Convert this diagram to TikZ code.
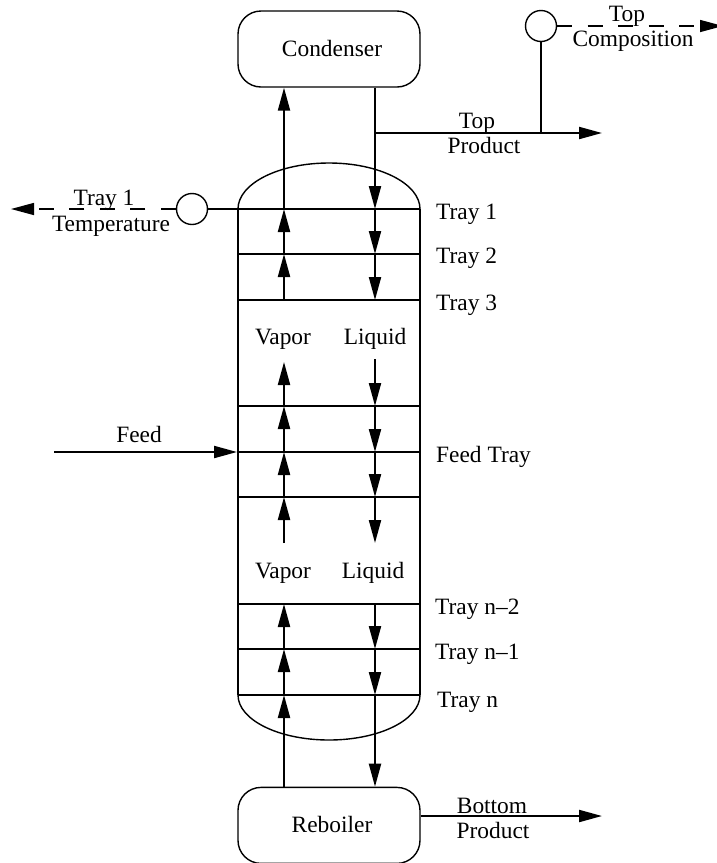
\documentclass[tikz,border=0pt]{standalone}
\usepackage{fontspec}
\setmainfont{Liberation Serif}
\usetikzlibrary{positioning,arrows.meta}

\begin{document}
\begin{tikzpicture}[
x=1pt,y=-1pt,
font=\fontsize{23.4}{26}\selectfont,
>={Triangle[length=23pt,width=12pt]},
flow/.style={line width=2.1pt},
shell/.style={line width=1.4pt},
unitbox/.style={draw,line width=1.4pt,rounded corners=23pt,minimum width=182pt,minimum height=76pt,text height=15pt},
sensor/.style={draw,line width=1.4pt,circle,minimum size=31pt,inner sep=0pt},
signal/.style={line width=1.4pt,dash pattern=on 15pt off 15.5pt},
txt/.style={inner sep=0pt,anchor=base},
traytxt/.style={inner sep=0pt,anchor=base west}
]
\useasboundingbox (0,0) rectangle (716,863);

% vessels
\node[unitbox] (cond) at (329,49) {\hspace*{6pt}Condenser};
\node[unitbox,below=699pt of cond] (reb) {\hspace*{6pt}Reboiler};
\node[sensor] (ti) at (192,209) {};
\node[sensor] (ci) at (541,26) {};

% column shell
\draw[shell] (238,209) arc[start angle=180,end angle=360,x radius=91,y radius=46];
\draw[shell] (238,695) arc[start angle=180,end angle=0,x radius=91,y radius=45];
\draw[flow] (238,209) -- (238,695);
\draw[flow] (420,209) -- (420,695);

% trays
\draw[flow] (238,209) -- (420,209);
\draw[flow] (238,254) -- (420,254);
\draw[flow] (238,300) -- (420,300);
\draw[flow] (238,406) -- (420,406);
\draw[flow] (238,452) -- (420,452);
\draw[flow] (238,497) -- (420,497);
\draw[flow] (238,604) -- (420,604);
\draw[flow] (238,649) -- (420,649);
\draw[flow] (238,695) -- (420,695);

% vapor points
\coordinate (v1) at (284,209);
\coordinate (v2) at (284,254);
\coordinate (v3) at (284,300);
\coordinate (v4) at (284,362);
\coordinate (v5) at (284,406);
\coordinate (v6) at (284,452);
\coordinate (v7) at (284,497);
\coordinate (v8) at (284,543);
\coordinate (v9) at (284,604);
\coordinate (v10) at (284,649);
\coordinate (v11) at (284,695);

% liquid points
\coordinate (l1) at (375,209);
\coordinate (l2) at (375,254);
\coordinate (l3) at (375,300);
\coordinate (l4) at (375,359);
\coordinate (l5) at (375,406);
\coordinate (l6) at (375,452);
\coordinate (l7) at (375,497);
\coordinate (l8) at (375,543);
\coordinate (l9) at (375,603);
\coordinate (l10) at (375,649);
\coordinate (l11) at (375,695);
\coordinate (tee) at (375,133);

% free ends
\coordinate (topend) at (602,133);
\coordinate (ctee) at (541,133);
\coordinate (botend) at (602,816);
\coordinate (feedin) at (54,452);
\coordinate (feedend) at (237,452);
\coordinate (tempend) at (11,209);
\coordinate (compend) at (723,26);
\coordinate (wall) at (238,209);

% vapor
\draw[flow,->] (v1) -- (v1 |- cond.south);
\draw[flow,->] (v2) -- (v1);
\draw[flow,->] (v3) -- (v2);
\draw[flow,->] (v5) -- (v4);
\draw[flow,->] (v6) -- (v5);
\draw[flow,->] (v7) -- (v6);
\draw[flow,->] (v8) -- (v7);
\draw[flow,->] (v10) -- (v9);
\draw[flow,->] (v11) -- (v10);
\draw[flow,->] (v11 |- reb.north) -- (v11);

% liquid
\draw[flow,->] (tee |- cond.south) -- (l1);
\draw[flow,->] (l1) -- (l2);
\draw[flow,->] (l2) -- (l3);
\draw[flow,->] (l4) -- (l5);
\draw[flow,->] (l5) -- (l6);
\draw[flow,->] (l6) -- (l7);
\draw[flow,->] (l7) -- (l8);
\draw[flow,->] (l9) -- (l10);
\draw[flow,->] (l10) -- (l11);
\draw[flow,->] (l11) -- (l11 |- reb.north);

% products and feed
\draw[flow,->] (tee) -- (topend);
\draw[flow,->] (reb.east |- botend) -- (botend);
\draw[flow,->] (feedin) -- (feedend);

% measurements
\draw[flow] (ci) -- (ctee);
\draw[flow] (ti) -- (wall);
\draw[signal,->] (ti) -- (tempend);
\draw[signal,->] (ci) -- (compend);

% stream labels
\node[txt] (toplbl) at (477,128) {Top};
\node[txt] (prodlbl) at (484,153) {Product};
\node[txt] (complbl) at (627,21) {Top};
\node[txt] (compostxt) at (633,46) {Composition};
\node[txt] (traylbl) at (104,205) {Tray 1};
\node[txt] (templbl) at (111,231) {Temperature};
\node[txt] (feedlbl) at (139,442) {Feed};
\node[txt] (botlbl) at (492,813) {Bottom};
\node[txt] (botprod) at (493,838) {Product};

% phases
\node[txt] (vap1) at (283,344) {Vapor};
\node[txt] (liq1) at (375,344) {Liquid};
\node[txt] (vap2) at (283,578) {Vapor};
\node[txt] (liq2) at (373,578) {Liquid};

% tray labels
\node[traytxt] (tr1) at (436,219) {Tray 1};
\node[traytxt] (tr2) at (436,263) {Tray 2};
\node[traytxt] (tr3) at (436,310) {Tray 3};
\node[traytxt] (trf) at (436,462) {Feed Tray};
\node[traytxt] (trn2) at (435,614) {Tray n--2};
\node[traytxt] (trn1) at (435,659) {Tray n--1};
\node[traytxt] (trn) at (437,707) {Tray n};

\end{tikzpicture}
\end{document}
